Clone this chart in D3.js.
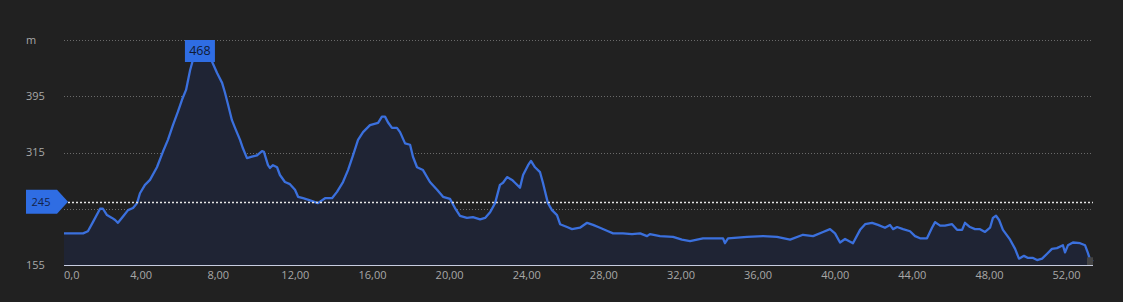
<!DOCTYPE html>
<html>
<head>
<meta charset="utf-8">
<script src="https://cdn.jsdelivr.net/npm/d3@7"></script>
<style>
  html, body { margin: 0; padding: 0; background: #212121; }
  svg { display: block; }
  text { font-family: "Open Sans", "Noto Sans", sans-serif; }
</style>
</head>
<body>
<svg id="chart" width="1123" height="302"></svg>
<script>
const distanceKm = [
  0, 0.99, 1.24, 1.50, 1.87, 2.02, 2.23, 2.49, 2.65, 2.80, 3.06, 3.32, 3.58, 3.79, 3.94,
  4.20, 4.46, 4.82, 5.13, 5.39, 5.65, 5.91, 6.12, 6.33, 6.54, 6.69, 7.05, 7.68, 7.94, 8.20,
  8.35, 8.51, 8.71, 8.87, 9.13, 9.28, 9.49, 9.75, 10.01, 10.27, 10.37, 10.58, 10.68, 10.84, 11.05,
  11.20, 11.46, 11.72, 11.98, 12.14, 12.40, 12.76, 13.17, 13.54, 13.90, 14.16, 14.47, 14.73, 14.99, 15.25,
  15.51, 15.87, 16.29, 16.49, 16.65, 16.80, 17.01, 17.27, 17.43, 17.69, 17.95, 18.10, 18.31, 18.62, 18.98,
  19.35, 19.66, 20.02, 20.28, 20.54, 20.90, 21.21, 21.58, 21.84, 22.10, 22.36, 22.61, 22.77, 22.98, 23.24,
  23.39, 23.65, 23.81, 24.07, 24.22, 24.43, 24.69, 24.84, 25.10, 25.31, 25.57, 25.73, 26.09, 26.35, 26.76,
  27.13, 27.44, 27.80, 28.22, 28.48, 28.99, 29.46, 29.88, 30.24, 30.39, 30.91, 31.59, 32.05, 32.47, 33.14,
  34.18, 34.28, 34.44, 35.43, 36.26, 36.98, 37.66, 38.33, 38.85, 39.37, 39.73, 39.99, 40.25, 40.51, 40.92,
  41.29, 41.55, 41.91, 42.22, 42.58, 42.84, 43.00, 43.21, 43.52, 43.88, 44.14, 44.40, 44.76, 45.02, 45.18,
  45.44, 45.69, 46.06, 46.32, 46.58, 46.73, 46.99, 47.25, 47.51, 47.77, 48.03, 48.18, 48.34, 48.50, 48.70,
  49.07, 49.33, 49.53, 49.79, 50.00, 50.26, 50.47, 50.73, 50.99, 51.24, 51.50, 51.81, 51.92, 52.07, 52.33,
  52.70, 52.96, 53.11, 53.22, 53.37
];
const elevationM = [
  200, 200, 203, 216, 235, 235, 226, 222, 219, 215, 224, 233, 236, 243, 257,
  269, 276, 294, 316, 333, 354, 373, 390, 404, 432, 447, 468, 444, 428, 414,
  400, 383, 361, 350, 333, 321, 307, 309, 311, 317, 316, 297, 293, 297, 294,
  283, 273, 270, 262, 252, 250, 247, 243, 250, 250, 259, 273, 290, 311, 333,
  344, 354, 357, 366, 366, 358, 350, 350, 344, 328, 326, 309, 294, 290, 273,
  262, 252, 249, 236, 225, 222, 223, 220, 222, 230, 243, 269, 272, 280, 276,
  272, 265, 283, 297, 303, 294, 287, 272, 243, 233, 226, 213, 209, 206, 208,
  215, 212, 208, 203, 200, 200, 199, 200, 196, 199, 196, 195, 191, 189, 193,
  193, 186, 193, 195, 196, 195, 191, 198, 196, 202, 206, 200, 187, 192, 186,
  205, 213, 215, 212, 208, 212, 206, 209, 206, 203, 196, 193, 193, 208, 216,
  211, 211, 213, 205, 205, 215, 209, 206, 206, 202, 208, 222, 225, 219, 205,
  191, 178, 164, 168, 165, 165, 162, 164, 171, 178, 179, 183, 173, 183, 187,
  186, 183, 172, 162, 160
];
const yTickValues = [155, 235, 315, 395, 475];
const yTickLabels = ["155", "", "315", "395", "m"];
const xTickValues = [0, 4, 8, 12, 16, 20, 24, 28, 32, 36, 40, 44, 48, 52];
const xTickLabels = ["0,0", "4,00", "8,00", "12,00", "16,00", "20,00", "24,00", "28,00", "32,00", "36,00", "40,00", "44,00", "48,00", "52,00"];
const averageElevation = 245;
const maxElevation = 468;

(function () {
const data = distanceKm.map((d, i) => ({ km: d, m: elevationM[i] }));

const svg = d3.select("#chart");
const pLeft = 64, pRight = 1093, pTop = 40, pBottom = 265;

const x = d3.scaleLinear().domain([0, d3.max(distanceKm)]).range([pLeft, pRight]);
const y = d3.scaleLinear().domain([155, 475]).range([pBottom, pTop]);

// gridlines
svg.append("g").selectAll("line").data(yTickValues.slice(1)).join("line")
  .attr("x1", pLeft).attr("x2", pRight)
  .attr("y1", d => Math.round(y(d)) + 0.5).attr("y2", d => Math.round(y(d)) + 0.5)
  .attr("stroke", "#6a6a6a").attr("stroke-width", 1).attr("stroke-dasharray", "1,2");

// area + line
const area = d3.area().x(d => x(d.km)).y0(pBottom).y1(d => y(d.m)).curve(d3.curveLinear);
const line = d3.line().x(d => x(d.km)).y(d => y(d.m)).curve(d3.curveLinear);
svg.append("path").datum(data).attr("d", area).attr("fill", "#1f2434");
svg.append("path").datum(data).attr("d", line).attr("fill", "none")
  .attr("stroke", "#3b70dd").attr("stroke-width", 2.3).attr("stroke-linejoin", "round");

// end handle
const lastKm = distanceKm[distanceKm.length - 1];
svg.append("rect").attr("x", x(lastKm) - 6).attr("y", y(166)).attr("width", 6)
  .attr("height", pBottom - y(166)).attr("fill", "#444444");

// baseline
svg.append("line").attr("x1", pLeft).attr("x2", pRight).attr("y1", pBottom + 0.5).attr("y2", pBottom + 0.5)
  .attr("stroke", "#c8cde0").attr("stroke-width", 1);

// average line
const ay = Math.round(y(averageElevation)) + 0.5;
svg.append("line").attr("x1", pLeft).attr("x2", pRight).attr("y1", ay).attr("y2", ay)
  .attr("stroke", "#e6e6e6").attr("stroke-width", 1.6).attr("stroke-dasharray", "2,2");

// y labels
svg.append("g").selectAll("text").data(yTickValues).join("text")
  .attr("x", 26).attr("y", d => y(d)).attr("dy", "0.35em")
  .attr("fill", "#a8a8a8").attr("font-size", 11)
  .text((d, i) => yTickLabels[i]);

// x axis labels
svg.append("g").selectAll("text").data(xTickValues).join("text")
  .attr("x", d => x(d)).attr("y", 275).attr("dy", "0.35em")
  .attr("text-anchor", (d, i) => i === 0 ? "start" : "middle")
  .attr("fill", "#a8a8a8").attr("font-size", 11)
  .text((d, i) => xTickLabels[i]);

// average marker
const my = y(averageElevation);
svg.append("path")
  .attr("d", `M26,${my - 12} L57,${my - 12} L68,${my} L57,${my + 12} L26,${my + 12} Z`)
  .attr("fill", "#2f6de3");
svg.append("text").attr("x", 41).attr("y", my).attr("dy", "0.35em").attr("text-anchor", "middle")
  .attr("fill", "#13234a").attr("font-size", 11).text(averageElevation);

// max marker
const maxIdx = elevationM.indexOf(maxElevation);
const mx = x(distanceKm[maxIdx]);
svg.append("rect").attr("x", mx - 15).attr("y", 40).attr("width", 30).attr("height", 22)
  .attr("fill", "#2f6de3");
svg.append("text").attr("x", mx).attr("y", 51).attr("dy", "0.35em").attr("text-anchor", "middle")
  .attr("fill", "#0f1a33").attr("font-size", 12.5).text(maxElevation);
})();
</script>
</body>
</html>
